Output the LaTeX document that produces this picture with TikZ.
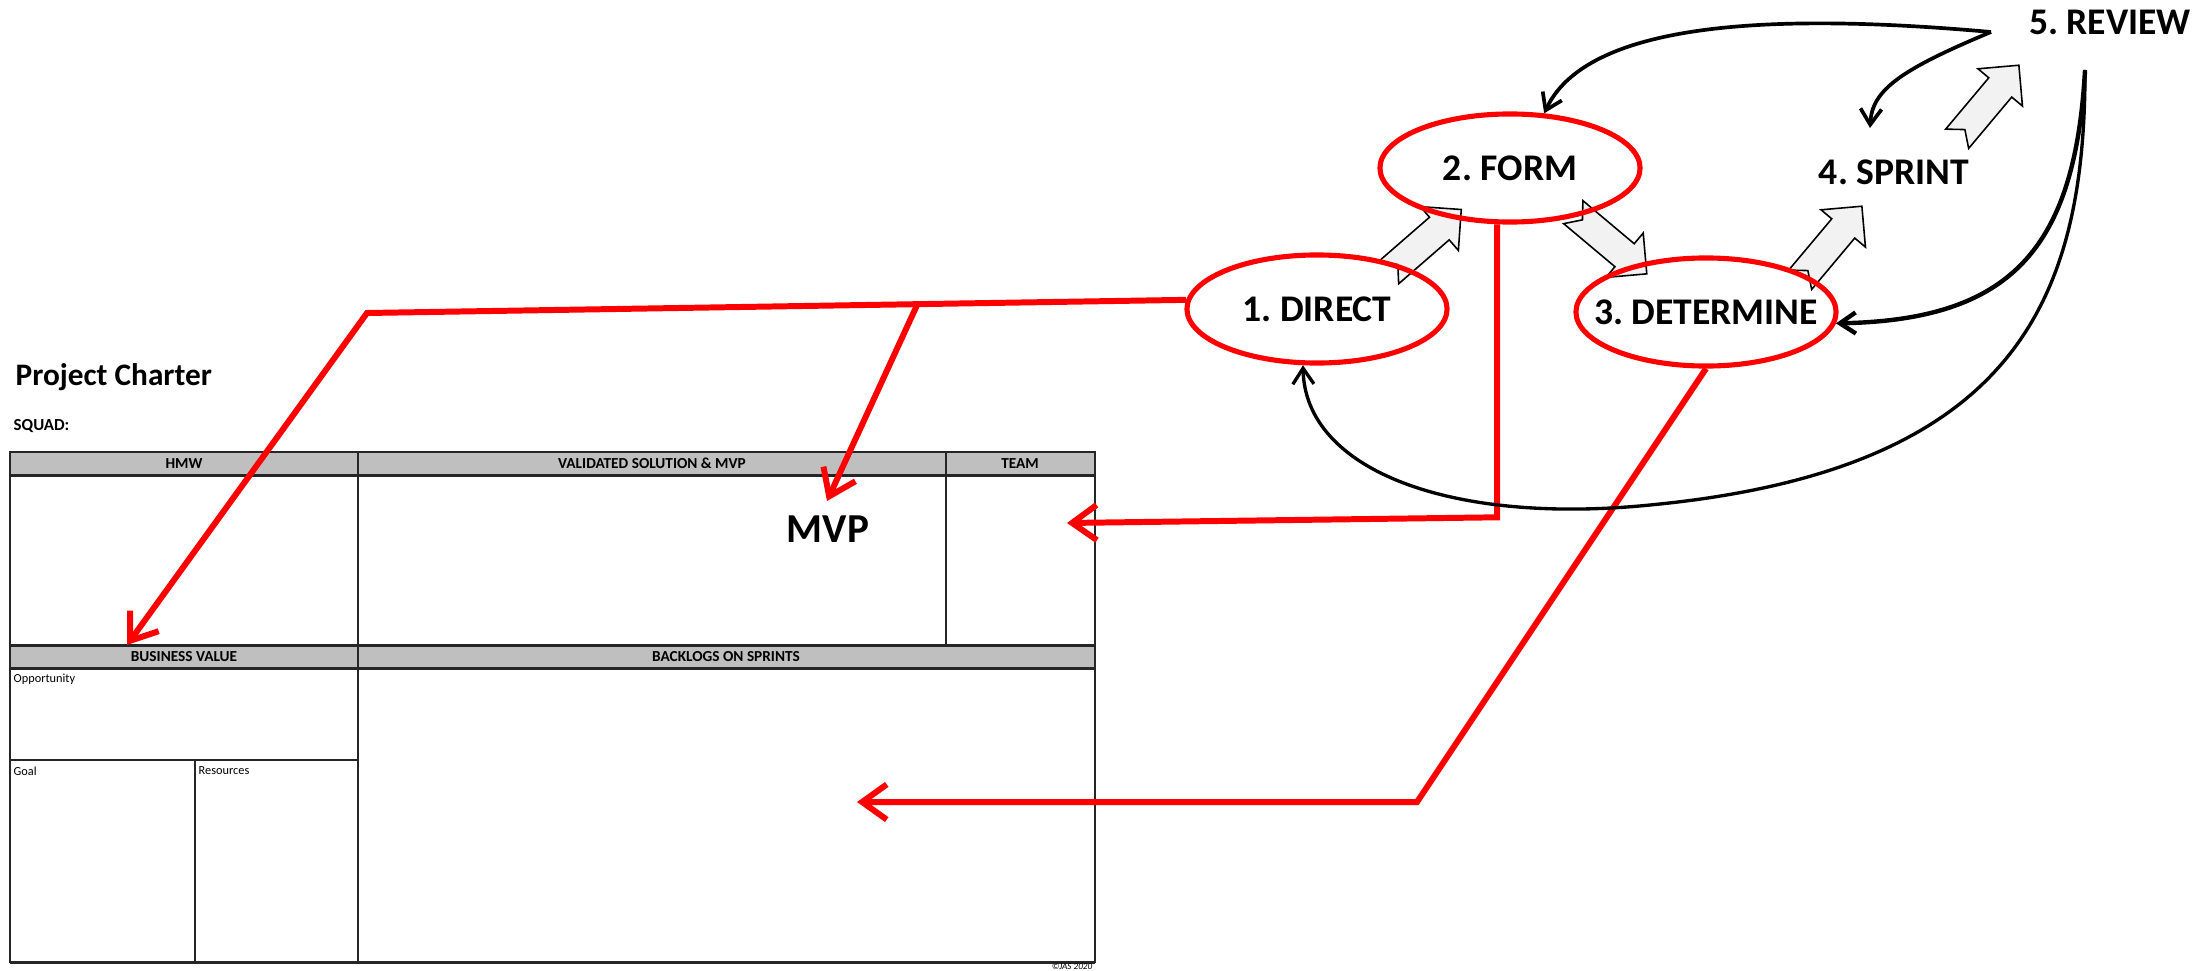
\documentclass[tikz,border=0pt]{standalone}
\usepackage{fontspec}
\setmainfont{Carlito}
\usetikzlibrary{arrows.meta,shapes.geometric,calc}

\definecolor{hdrgray}{HTML}{BFBFBF}
\definecolor{blockfill}{HTML}{F2F2F2}

\newcommand\fsz[1]{\fontsize{#1}{#1}\selectfont}
\frenchspacing

% notched block arrow centred at #1, pointing at angle #2
\newcommand\blockarrowat[2]{%
  \draw[blockarrow, shift={(#1)}, rotate=#2]
    (-48,15) -- (19,15) -- (19,29) -- (48,0) -- (19,-29) -- (19,-15)
    -- (-48,-15) -- (-36,0) -- cycle;}

\tikzset{
  freestage/.style={inner sep=0pt, font=\fsz{10.7pt}\bfseries},
  stage/.style={ellipse, draw=red, line width=1.45pt, minimum width=2.6cm,
    minimum height=1.08cm, inner sep=0pt,
    label={[freestage]center:#1}},
  redlink/.style={draw=red, line width=1.7pt, -{Straight Barb[length=7pt,width=10pt]}},
  loopback/.style={line width=1.05pt, -{Straight Barb[length=4.5pt,width=6pt]}},
  gridthin/.style={line width=0.55pt, draw=black!85},
  gridthick/.style={line width=0.85pt, draw=black!85},
  hdrtxt/.style={font=\fsz{4.35pt}\bfseries, inner sep=0pt},
  celltxt/.style={font=\fsz{3.5pt}, anchor=north west, inner sep=0pt},
  blockarrow/.style={draw=black, line width=0.45pt, fill=blockfill, line join=miter},
}

\begin{document}
\begin{tikzpicture}[x=0.01cm, y=-0.01cm]
\useasboundingbox (0,0) rectangle (2210,970);

% ---------- project charter sheet ----------
\node[anchor=base west, inner sep=0pt, font=\fsz{8.9pt}\bfseries] (title) at (15,385) {Project Charter};
\node[anchor=base west, inner sep=0pt, font=\fsz{4.8pt}\bfseries] (squad) at (13,430) {SQUAD:};

\fill[hdrgray] (10,452) rectangle (1095,475);
\fill[hdrgray] (10,645) rectangle (1095,668);
\draw[gridthin] (10,452) rectangle (1095,962);
\draw[gridthick] (10,452) -- (1095,452);
\draw[gridthick] (10,475) -- (1095,475);
\draw[gridthick] (10,645) -- (1095,645);
\draw[gridthick] (10,668) -- (1095,668);
\draw[gridthick] (10,962) -- (1095,962);
\draw[gridthin] (358,452) -- (358,962);
\draw[gridthin] (946,452) -- (946,645);
\draw[gridthin] (10,760) -- (358,760);
\draw[gridthin] (195,760) -- (195,962);

\node[hdrtxt] (hmw) at (184,463.5) {HMW};
\node[hdrtxt] (vsol) at (652,463.5) {VALIDATED SOLUTION \& MVP};
\node[hdrtxt] (team) at (1020,463.5) {TEAM};
\node[hdrtxt] (bval) at (184,656.5) {BUSINESS VALUE};
\node[hdrtxt] (blog) at (726,656.5) {BACKLOGS ON SPRINTS};
\node[celltxt] (opp) at (13,673) {Opportunity};
\node[celltxt] (goal) at (13,766) {Goal};
\node[celltxt] (res) at (198,766) {Resources};
\node[inner sep=0pt, font=\fsz{2.6pt}\itshape] (copy) at (1072,966) {©JAS 2020};

\node[anchor=base, inner sep=0pt, font=\fsz{11.7pt}\bfseries] (mvp) at (828,542) {MVP};

% ---------- cycle: block arrows between stages ----------
\blockarrowat{1425,241}{41}
\blockarrowat{1610,243}{-40}
\blockarrowat{1831,243}{50}
\blockarrowat{1988,102}{50}

% ---------- stages ----------
\node[stage={1. DIRECT}] (direct) at (1317,309) {};
\node[stage={2. FORM}] (form) at (1510,168) {};
\node[stage={3. DETERMINE}] (determine) at (1706,312) {};
\node[freestage] (sprint) at (1894,172) {4. SPRINT};
\node[freestage] (review) at (2110,22) {5. REVIEW};

% ---------- red links into the charter ----------
\coordinate (cbv) at (367,313);
\coordinate (tbv) at (127,645);
\coordinate (br) at ($(direct.176)!0.328!(cbv)$);
\coordinate (tmvp) at (827,501);
\coordinate (tteam) at (1067,523);
\coordinate (cdet) at (1417,802);
\coordinate (tback) at (857,802);

\draw[redlink] (direct.176) -- (cbv) -- (tbv);
\draw[redlink] (br) -- (tmvp);
\draw[redlink] (form.257) -- ($(form.257)+(0,293)$) -- (tteam);
\draw[redlink] (determine.south) -- (cdet) -- (tback);

% ---------- review feedback loops ----------
\coordinate (rvL) at ($(review.center)+(-119,10)$);
\coordinate (rvB) at ($(review.center)+(-25,48)$);
\coordinate (sprtop) at ($(sprint.center)+(-24,-44)$);

\draw[loopback] (rvL) .. controls (1800,15) and (1590,15) .. (form.58);
\draw[loopback] (rvL) .. controls (1900,70) and (1872,90) .. (sprtop);
\draw[loopback, line width=1.25pt] (rvB) .. controls (2075,250) and (2010,320) .. (determine.-5);
\draw[loopback, line width=0.95pt] (rvB) .. controls (2085,300) and (2015,470) .. (1650,505)
  .. controls (1450,525) and (1305,470) .. (direct.256);
\end{tikzpicture}
\end{document}
